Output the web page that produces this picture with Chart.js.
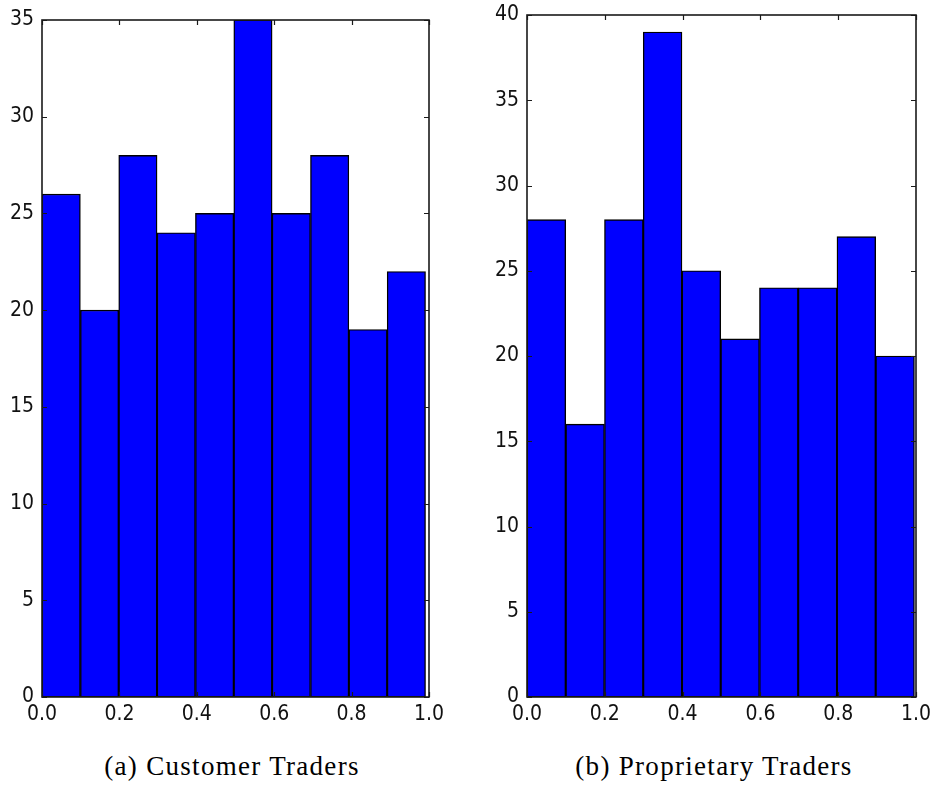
<!DOCTYPE html>
<html>
<head>
<meta charset="utf-8">
<script src="https://cdn.jsdelivr.net/npm/chart.js@4.4.0/dist/chart.umd.min.js"></script>
<style>
  body { margin: 0; background: #fff; width: 932px; height: 796px; position: relative; overflow: hidden; }
  canvas { position: absolute; top: 0; }
  #histA { left: 0; }
  #histB { left: 480px; }
  .caption { position: absolute; top: 751px; font-family: "Liberation Serif", serif; font-size: 27px; letter-spacing: 1.3px; color: #000; transform: translateX(-50%); white-space: nowrap; }
</style>
</head>
<body>
<canvas id="histA" width="445" height="730"></canvas>
<canvas id="histB" width="452" height="730"></canvas>
<div class="caption" style="left:232px">(a) Customer Traders</div>
<div class="caption" style="left:714px">(b) Proprietary Traders</div>
<script>
/* bin centres (x) and counts per bin */
const customerBins = [0.0496, 0.1487, 0.2478, 0.3469, 0.4460, 0.5451, 0.6442, 0.7433, 0.8424, 0.9415];
const customerCounts = [26, 20, 28, 24, 25, 35, 25, 28, 19, 22];
const propBins = [0.0498, 0.1494, 0.2490, 0.3486, 0.4482, 0.5478, 0.6474, 0.7470, 0.8466, 0.9462];
const propCounts = [28, 16, 28, 39, 25, 21, 24, 24, 27, 20];

const TICK_FONT = { family: '"DejaVu Sans Condensed", "DejaVu Sans", sans-serif', size: 21 };

// inward ticks on all four sides plus the axes box, drawn over the bars
const frameTicks = {
  id: 'frameTicks',
  afterDatasetsDraw(chart) {
    const { ctx, chartArea: a, scales: { x, y } } = chart;
    const len = 5;
    ctx.save();
    ctx.strokeStyle = '#1a1a1a';
    ctx.lineWidth = 1.2;
    ctx.beginPath();
    x.ticks.forEach(t => {
      const px = Math.round(x.getPixelForValue(t.value)) + 0.5;
      ctx.moveTo(px, a.bottom); ctx.lineTo(px, a.bottom - len);
      ctx.moveTo(px, a.top); ctx.lineTo(px, a.top + len);
    });
    y.ticks.forEach(t => {
      const py = Math.round(y.getPixelForValue(t.value)) + 0.5;
      ctx.moveTo(a.left, py); ctx.lineTo(a.left + len, py);
      ctx.moveTo(a.right, py); ctx.lineTo(a.right - len, py);
    });
    ctx.stroke();
    ctx.lineWidth = 1.6;
    ctx.strokeRect(a.left, a.top, a.right - a.left, a.bottom - a.top);
    ctx.restore();
  }
};

function renderHist(id, centers, counts, yMax, yWidth, padTop) {
  const ctx = document.getElementById(id);
  return new Chart(ctx, {
    type: 'bar',
    data: {
      datasets: [{
        data: centers.map((c, i) => ({ x: c, y: counts[i] })),
        backgroundColor: '#0000ff',
        borderColor: '#000',
        borderWidth: 1.4,
        borderSkipped: false,
        barPercentage: 1,
        categoryPercentage: 1,
      }]
    },
    options: {
      responsive: false, animation: false,
      layout: { padding: { top: padTop, right: 16, left: 0, bottom: 0 } },
      plugins: { legend: { display: false }, tooltip: { enabled: false } },
      scales: {
        x: {
          type: 'linear', min: 0, max: 1, offset: false,
          grid: { display: false, drawTicks: false }, border: { display: false },
          ticks: { stepSize: 0.2, color: '#111', font: TICK_FONT, padding: 5, maxRotation: 0,
                   callback: v => v.toFixed(1) },
          afterFit: s => { s.height = 33; s.paddingLeft = 0; s.paddingRight = 0; }
        },
        y: {
          min: 0, max: yMax,
          grid: { display: false, drawTicks: false }, border: { display: false },
          ticks: { stepSize: 5, color: '#111', font: TICK_FONT, padding: 8 },
          afterFit: s => { s.width = yWidth; s.paddingTop = 0; s.paddingBottom = 0; }
        }
      }
    },
    plugins: [frameTicks]
  });
}

renderHist('histA', customerBins, customerCounts, 35, 42, 20);
renderHist('histB', propBins, propCounts, 40, 47, 15);
</script>
</body>
</html>
